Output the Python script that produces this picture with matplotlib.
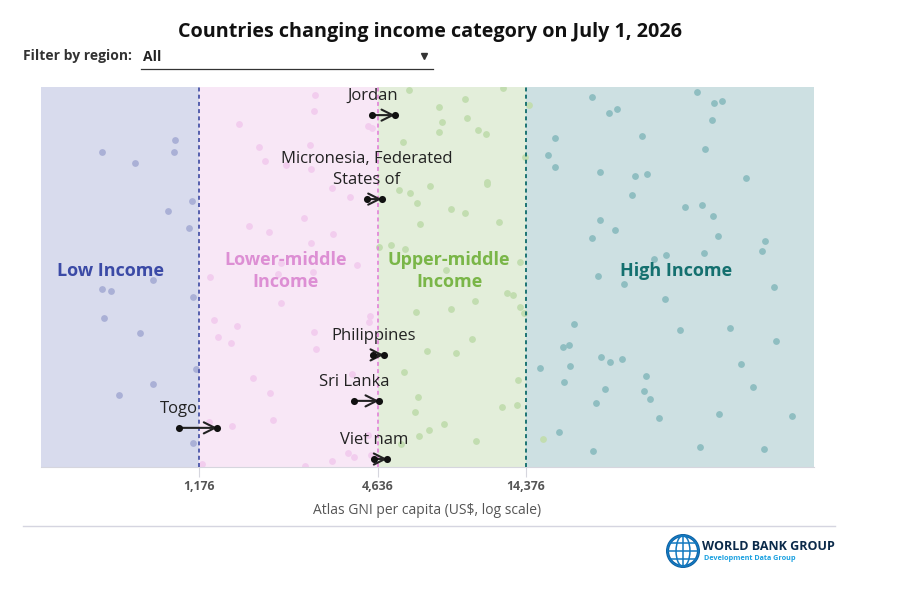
import numpy as np
import matplotlib
matplotlib.use("Agg")
import matplotlib.pyplot as plt
from matplotlib.lines import Line2D
from matplotlib.patches import Circle, Ellipse

plt.rcParams['font.family'] = ['Open Sans', 'DejaVu Sans']

# income thresholds (US$, Atlas GNI per capita)
thresholds = [1176, 4636, 14376]
band_names = ["Low Income", "Lower-middle\nIncome", "Upper-middle\nIncome", "High Income"]
band_label_x = [599, 2289, 7980, 45400]

# background countries: GNI per capita and vertical jitter (0-100)
low_gni = [559, 720, 979, 971, 1115, 928, 1089, 827, 559, 599, 1123, 568, 748, 1149, 827, 637, 1123]
low_y = [83, 80, 86, 83, 70, 67.4, 62.9, 49.2, 46.8, 46.3, 44.7, 39.2, 35.3, 25.8, 21.8, 18.9, 6.3]

lmc_gni = [2859, 2837, 1597, 4290, 4423, 1862, 2752, 1949, 2289, 2773, 3256, 3738, 2628, 1724,
           2010, 3281, 2773, 3943, 2203, 2815, 2153, 1279, 2203, 1319, 1573, 1360, 1503, 4356,
           4323, 2837, 2881, 1778, 2025, 3795, 2072, 1514, 1270, 4290, 3681, 3854, 3256, 2648,
           4390, 1203]
lmc_y = [97.9, 93.7, 90.3, 89.7, 89.2, 84.2, 84.7, 80.5, 79.5, 78.4, 73.4, 71.1, 65.5, 63.4,
         61.8, 61.3, 58.9, 53.2, 53.7, 51.3, 50.8, 50.0, 43.2, 38.7, 37.1, 34.2, 32.6, 39.7,
         38.2, 35.5, 31.1, 23.4, 19.5, 24.5, 12.4, 10.8, 11.8, 8.4, 3.7, 2.6, 1.6, 0.3,
         3.2, 0.8]

umc_gni = [5872, 12061, 9018, 7390, 9158, 7562, 9962, 10591, 7390, 5609, 14718, 14273, 10672,
           10672, 6897, 5439, 5918, 6243, 8101, 9018, 6388, 11697, 4667, 5117, 5695, 7797,
           13737, 12436, 13021, 9736, 8101, 6196, 13737, 14165, 9515, 6740, 8417, 5652, 13529,
           6291, 11969, 13425, 6148, 7679, 6844, 6340, 9811, 5524, 16384]
umc_y = [99.2, 99.7, 96.8, 94.7, 91.8, 90.8, 88.7, 87.6, 88.2, 85.5, 95.3, 81.6, 75.0,
         74.5, 73.9, 72.9, 72.1, 69.5, 67.9, 66.8, 63.9, 64.5, 57.9, 58.4, 57.4, 51.8,
         53.9, 45.8, 45.3, 43.7, 41.6, 40.8, 42.1, 40.5, 33.7, 30.5, 30.0, 25.0, 22.9,
         18.4, 15.8, 16.3, 14.5, 11.3, 9.7, 8.2, 6.8, 6.1, 7.4]

hic_gni = [23846, 53289, 60698, 64534, 27161, 28877, 59776, 34966, 17959, 56656, 17021, 17959,
           25352, 33141, 36331, 77540, 32388, 48599, 55368, 60235, 25352, 28437, 23846, 62588,
           89686, 87648, 56223, 38331, 42018, 24967, 30465, 96065, 41698, 20773, 46775, 68603,
           97549, 19094, 19992, 25547, 27369, 30002, 20146, 74630, 16012, 36055, 19241, 26341,
           35506, 37175, 81811, 24587, 39826, 63069, 110265, 18518, 24029, 54526, 89002]
hic_y = [97.4, 98.7, 95.8, 96.3, 93.2, 94.2, 91.3, 87.1, 86.6, 83.7, 82.1, 78.9,
         77.6, 76.6, 77.1, 76.1, 71.6, 68.4, 68.9, 66.1, 65.0, 62.4, 60.3, 60.8,
         59.5, 56.8, 56.3, 54.7, 55.8, 50.3, 48.2, 47.4, 44.2, 37.6, 36.1, 36.6,
         33.2, 31.6, 32.1, 28.9, 27.6, 28.4, 26.6, 27.1, 26.1, 23.9, 22.4, 20.5,
         20.0, 17.9, 21.1, 16.8, 12.9, 13.9, 13.4, 9.2, 4.2, 5.3, 4.7]

# countries changing category
countries = ["Jordan", "Micronesia, Federated\nStates of", "Philippines", "Sri Lanka", "Togo", "Viet nam"]
gni_old = [4434, 4247, 4468, 3863, 1009, 4492]
gni_new = [5275, 4764, 4849, 4667, 1353, 4973]
country_y = [92.6, 70.5, 29.5, 17.4, 10.3, 2.1]

band_bg = ["#d8dbed", "#f8e7f6", "#e3eeda", "#cde0e2"]
dot_col = ["#aab0d6", "#f2cdee", "#c2ddb0", "#8fbec1"]
line_col = ["#4a55a8", "#e28ad9", "#0e6b6b"]
label_col = ["#3b4aa6", "#dd8fd4", "#7ab648", "#14706f"]

W, H = 898, 589
fig = plt.figure(figsize=(W / 100, H / 100), dpi=100)
ax = fig.add_axes([41 / W, 1 - 467 / H, 773 / W, 380 / H])
ax.set_xscale("log")
xmin, xmax = 351, 130500
ax.set_xlim(xmin, xmax)
ax.set_ylim(0, 100)

edges = [xmin] + thresholds + [xmax]
for i in range(4):
    ax.axvspan(edges[i], edges[i + 1], color=band_bg[i], lw=0, zorder=0)

groups = [(low_gni, low_y), (lmc_gni, lmc_y), (umc_gni, umc_y), (hic_gni, hic_y)]
for i, (gx, gy) in enumerate(groups):
    ax.scatter(gx, gy, s=24, color=dot_col[i], lw=0, zorder=2)

for i, t in enumerate(thresholds):
    ax.axvline(t, color=line_col[i], ls=(0, (2.2, 1.8)), lw=1.3, zorder=3)

for i, name in enumerate(band_names):
    ax.text(band_label_x[i], 51.6, name, ha="center", va="center", fontsize=13, fontweight="bold",
            color=label_col[i], linespacing=1.25, zorder=4)

for name, a, b, yy in zip(countries, gni_old, gni_new, country_y):
    ax.annotate("", xy=(b, yy), xytext=(a, yy),
                arrowprops=dict(arrowstyle="->,head_length=0.8,head_width=0.4", color="#222",
                                lw=1.5, shrinkA=0, shrinkB=0, mutation_scale=10), zorder=5)
    ax.scatter([a, b], [yy, yy], s=26, color="#111", lw=0, zorder=6)
    ax.annotate(name, (a, yy), xytext=(0, 7.8), textcoords="offset points", ha="center",
                va="bottom", fontsize=12, color="#222", linespacing=1.4, zorder=6)

ax.set_xticks(thresholds)
ax.set_xticklabels([f"{t:,}" for t in thresholds])
ax.minorticks_off()
ax.tick_params(axis="x", length=7, color="#d6d6de", pad=2, labelsize=8.8, labelcolor="#555")
for lbl in ax.get_xticklabels():
    lbl.set_fontweight("bold")
ax.set_yticks([])
for s in ["top", "left", "right"]:
    ax.spines[s].set_visible(False)
ax.spines["bottom"].set_color("#d6d6de")

fig.text(427.5 / W, 1 - 511 / H, "Atlas GNI per capita (US$, log scale)", ha="center",
         va="center", fontsize=10, color="#555")

fig.text(430 / W, 1 - 32.5 / H, "Countries changing income category on July 1, 2026",
         ha="center", va="center", fontsize=14.2, fontweight="bold", color="#111")
fig.text(23 / W, 1 - 56 / H, "Filter by region:", ha="left", va="center", fontsize=10,
         fontweight="bold", color="#333")
fig.text(143 / W, 1 - 57 / H, "All", ha="left", va="center", fontsize=10,
         fontweight="bold", color="#222")
fig.add_artist(Line2D([141 / W, 433 / W], [1 - 69 / H] * 2, color="#333", lw=0.9))
fig.add_artist(Line2D([424 / W], [1 - 56 / H], marker="v", ms=5, color="#333", lw=0))
fig.add_artist(Line2D([23 / W, 835 / W], [1 - 526 / H] * 2, color="#d5d5e0", lw=1))

# logo
gax = fig.add_axes([666 / W, 1 - 568 / H, 34 / W, 34 / H])
gax.set_xlim(-1.1, 1.1)
gax.set_ylim(-1.1, 1.1)
gax.set_aspect("equal")
gax.axis("off")
gax.add_patch(Circle((0, 0), 1, fill=False, ec="#0a5a9c", lw=2.2))
for w in [1.0, 0.45]:
    gax.add_patch(Ellipse((0, 0), w * 2, 2, fill=False, ec="#1379c0", lw=1.1))
gax.plot([0, 0], [-1, 1], color="#1379c0", lw=1.1)
for yy in [-0.5, 0, 0.5]:
    hw = np.sqrt(1 - yy ** 2)
    gax.plot([-hw, hw], [yy, yy], color="#1379c0", lw=1.1)
fig.text(702 / W, 1 - 546 / H, "WORLD BANK GROUP", ha="left", va="center", fontsize=9,
         fontweight="bold", color="#0b2a4a")
fig.text(704 / W, 1 - 559 / H, "Development Data Group", ha="left", va="center", fontsize=5.2,
         fontweight="bold", color="#1aa0e0")

fig.savefig("out.png", dpi=100)
